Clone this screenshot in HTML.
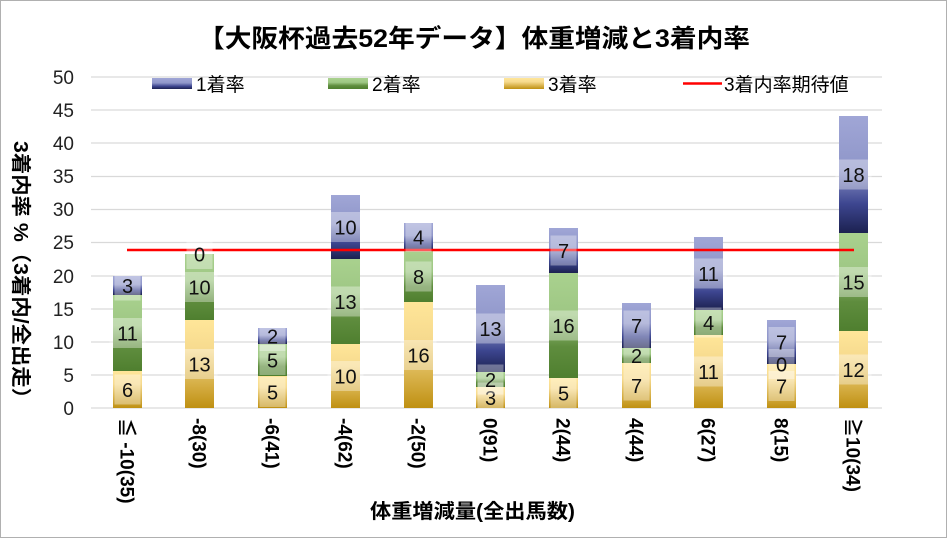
<!DOCTYPE html>
<html><head><meta charset="utf-8"><style>
html,body{margin:0;padding:0;background:#fff}
svg{display:block}
text{font-family:"Liberation Sans","Noto Sans CJK JP",sans-serif}
</style></head><body>
<svg width="949" height="540" xmlns="http://www.w3.org/2000/svg">
<defs>
<linearGradient id="gb" x1="0" y1="0" x2="0" y2="1"><stop offset="0" stop-color="#a0a6d6"/><stop offset="0.45" stop-color="#8f96c9"/><stop offset="0.75" stop-color="#3d4690"/><stop offset="1" stop-color="#1c2150"/></linearGradient>
<linearGradient id="gg" x1="0" y1="0" x2="0" y2="1"><stop offset="0" stop-color="#a9d18e"/><stop offset="0.4" stop-color="#9ec784"/><stop offset="0.7" stop-color="#5f8d3e"/><stop offset="1" stop-color="#4f7f2f"/></linearGradient>
<linearGradient id="gy" x1="0" y1="0" x2="0" y2="1"><stop offset="0" stop-color="#ffe699"/><stop offset="0.35" stop-color="#f6da8e"/><stop offset="1" stop-color="#bf9012"/></linearGradient>
</defs>
<rect x="0.5" y="0.5" width="946" height="537" fill="#fff" stroke="#b0b0b0"/>
<text x="198" y="47" textLength="552" lengthAdjust="spacingAndGlyphs" font-size="25" font-weight="bold">【大阪杯過去52年データ】体重増減と3着内率</text>
<g stroke="#d9d9d9" stroke-width="1.3">
<line x1="91" x2="882" y1="77" y2="77"/><line x1="91" x2="882" y1="110" y2="110"/><line x1="91" x2="882" y1="143" y2="143"/><line x1="91" x2="882" y1="176.5" y2="176.5"/><line x1="91" x2="882" y1="209.5" y2="209.5"/><line x1="91" x2="882" y1="242.5" y2="242.5"/><line x1="91" x2="882" y1="276" y2="276"/><line x1="91" x2="882" y1="309" y2="309"/><line x1="91" x2="882" y1="342" y2="342"/><line x1="91" x2="882" y1="375" y2="375"/><line x1="91" x2="882" y1="408" y2="408"/>
</g>
<g font-size="19" text-anchor="end" fill="#222">
<text x="74" y="84">50</text><text x="74" y="117">45</text><text x="74" y="150">40</text><text x="74" y="183">35</text><text x="74" y="216">30</text><text x="74" y="249">25</text><text x="74" y="283">20</text><text x="74" y="316">15</text><text x="74" y="349">10</text><text x="74" y="382">5</text><text x="74" y="415">0</text>
</g>
<text transform="translate(14,141) rotate(90)" textLength="268" lengthAdjust="spacingAndGlyphs" font-size="20" font-weight="bold">3着内率 %（3着内/全出走）</text>
<rect x="152" y="78" width="40" height="11" fill="url(#gb)"/><text x="196" y="91" font-size="19">1着率</text>
<rect x="328" y="78" width="40" height="11" fill="url(#gg)"/><text x="372" y="91" font-size="19">2着率</text>
<rect x="504" y="78" width="40" height="11" fill="url(#gy)"/><text x="548" y="91" font-size="19">3着率</text>
<line x1="683" x2="722" y1="83.5" y2="83.5" stroke="#f00" stroke-width="2.5"/><text x="724" y="91" font-size="19">3着内率期待値</text>
<g id="bars"></g>
<line x1="127" x2="854" y1="250" y2="250" stroke="#f00" stroke-width="2.5"/>
<g id="labs" font-size="20" text-anchor="middle"></g>
<g id="xl" font-size="19" font-weight="bold"></g>
<text x="370" y="518" textLength="205" lengthAdjust="spacingAndGlyphs" font-size="20" font-weight="bold">体重増減量(全出馬数)</text>
</svg>
<script>
var xs=[113,185,258,331,404,476,549,622,694,767,839];
var d=[[371,295,276,6,11,3],[320,254,254,13,10,0],[376,344,328,5,5,2],[344,259,195,10,13,10],[302,251,223,16,8,4],[387,372,285,3,2,13],[378,273,228,5,16,7],[363,348,303,7,2,7],[335,310,237,11,4,11],[364,364,320,7,0,7],[331,233,116,12,15,18]];
var names=["≦ -10(35)","-8(30)","-6(41)","-4(62)","-2(50)","0(91)","2(44)","4(44)","6(27)","8(15)","≧10(34)"];
var ns="http://www.w3.org/2000/svg",B=document.getElementById("bars"),L=document.getElementById("labs"),X=document.getElementById("xl");
function el(p,t,a,tx){var e=document.createElementNS(ns,t);for(var k in a)e.setAttribute(k,a[k]);if(tx!=null)e.textContent=tx;p.appendChild(e);return e;}
function lab(cx,cy,v){var w=String(v).length>1?36:26;el(L,"rect",{x:cx-w/2,y:cy-15,width:w,height:30,fill:"rgba(255,255,255,0.35)"});el(L,"text",{x:cx,y:cy+7.5,fill:"#111"},v);}
d.forEach(function(r,i){var x=xs[i],w=29,c=x+w/2;
el(B,"rect",{x:x,y:r[0],width:w,height:408-r[0],fill:"url(#gy)"});
if(r[0]>r[1])el(B,"rect",{x:x,y:r[1],width:w,height:r[0]-r[1],fill:"url(#gg)"});
if(r[1]>r[2])el(B,"rect",{x:x,y:r[2],width:w,height:r[1]-r[2],fill:"url(#gb)"});
lab(c,(408+r[0])/2,r[3]);lab(c,(r[0]+r[1])/2,r[4]);lab(c,(r[1]+r[2])/2,r[5]);
el(X,"text",{transform:"translate("+(c-7)+",418) rotate(90)"},names[i]);});
</script>
</body></html>
